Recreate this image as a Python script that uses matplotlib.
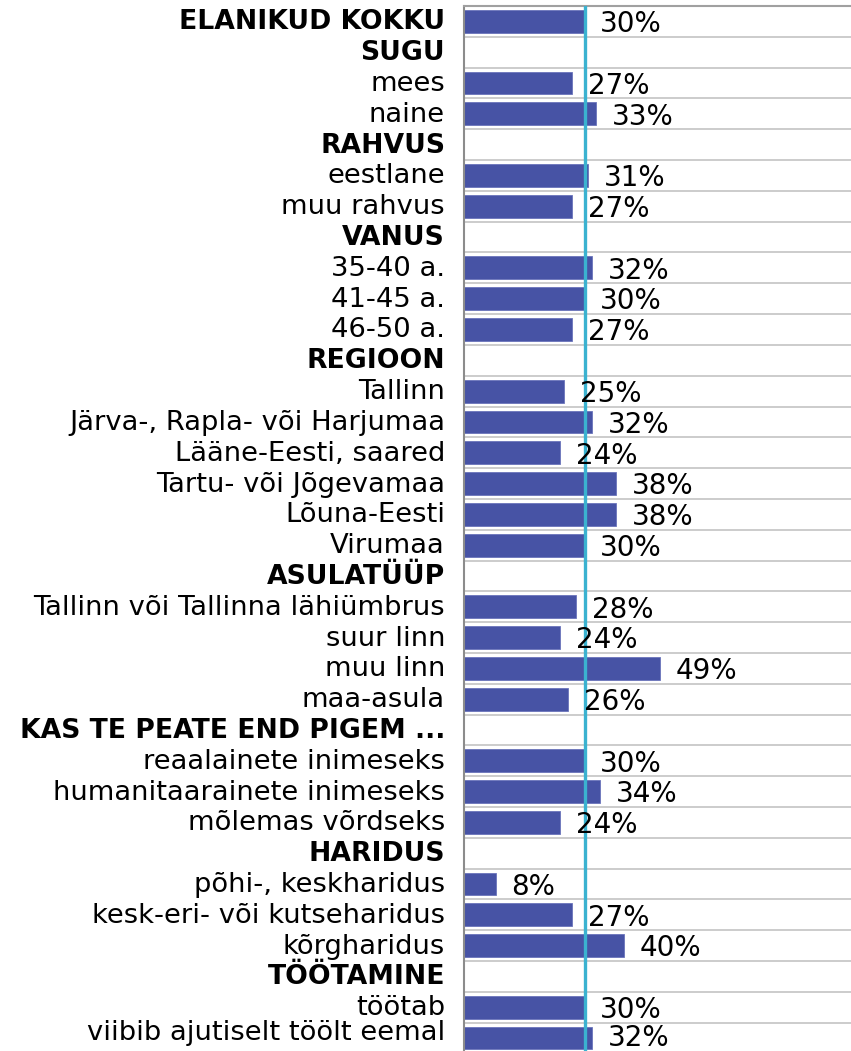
import numpy as np
import matplotlib.pyplot as plt

# rows of the chart, top to bottom; None = section header (no bar)
labels = [
    "ELANIKUD KOKKU", "SUGU", "mees", "naine", "RAHVUS", "eestlane", "muu rahvus",
    "VANUS", "35-40 a.", "41-45 a.", "46-50 a.", "REGIOON", "Tallinn",
    "Järva-, Rapla- või Harjumaa", "Lääne-Eesti, saared", "Tartu- või Jõgevamaa",
    "Lõuna-Eesti", "Virumaa", "ASULATÜÜP", "Tallinn või Tallinna lähiümbrus",
    "suur linn", "muu linn", "maa-asula", "KAS TE PEATE END PIGEM ...",
    "reaalainete inimeseks", "humanitaarainete inimeseks", "mõlemas võrdseks",
    "HARIDUS", "põhi-, keskharidus", "kesk-eri- või kutseharidus", "kõrgharidus",
    "TÖÖTAMINE", "töötab", "viibib ajutiselt töölt eemal",
]
values = [
    30, None, 27, 33, None, 31, 27,
    None, 32, 30, 27, None, 25,
    32, 24, 38,
    38, 30, None, 28,
    24, 49, 26, None,
    30, 34, 24,
    None, 8, 27, 40,
    None, 30, 32,
]
bold_rows = [0, 1, 4, 7, 11, 18, 23, 27, 31]
average = 30.3

bar_color = "#4753a5"
line_color = "#3bb2d0"

fig = plt.figure(figsize=(8.51, 10.51), dpi=100)
ax = fig.add_axes([463.5 / 851, -2.5 / 1051, 1 - 463.5 / 851, 1 - 3.5 / 1051])

n = len(labels)
for i, v in enumerate(values):
    if v is None:
        continue
    ax.barh(i, v, height=0.74, color=bar_color, edgecolor="#6a74bb", linewidth=0.6, zorder=2)
    dy = -7.5 if i == n - 1 else -10.8
    ax.annotate(f"{v}%", xy=(v, i), xytext=(16, dy), textcoords="offset pixels",
                va="baseline", ha="left", fontsize=20, color="black", zorder=4,
                annotation_clip=False)

# row labels drawn by hand (bold section headers)
for i, lab in enumerate(labels):
    bold = i in bold_rows
    dy = -2 if i == n - 1 else -8
    ax.annotate(lab, xy=(0, i), xycoords=ax.get_yaxis_transform(),
                xytext=(-18.5, dy), textcoords="offset pixels",
                va="baseline", ha="right", color="black",
                fontsize=19.2 if bold else 19.7,
                fontweight="bold" if bold else "normal",
                annotation_clip=False)

ax.plot([average, average], [-0.5, n - 1 + 0.37], color=line_color, lw=2.4, zorder=3)

ax.set_xlim(0, (851 - 463.5) / 4)
ax.set_ylim(n - 0.5, -0.5)
ax.set_xticks([])
ax.set_yticks([])
ax.set_yticks(np.arange(n) + 0.5, minor=True)
ax.tick_params(axis="y", which="minor", length=0, labelleft=False)
ax.grid(axis="y", which="minor", color="#c8c8c8", lw=1.3, zorder=0)

ax.spines["right"].set_visible(False)
ax.spines["bottom"].set_visible(False)
ax.spines["left"].set_color("#8c8c8c")
ax.spines["top"].set_color("#a0a0a0")
ax.spines["left"].set_linewidth(1.5)
ax.spines["top"].set_linewidth(1.5)

fig.savefig("out.png", dpi=100)
